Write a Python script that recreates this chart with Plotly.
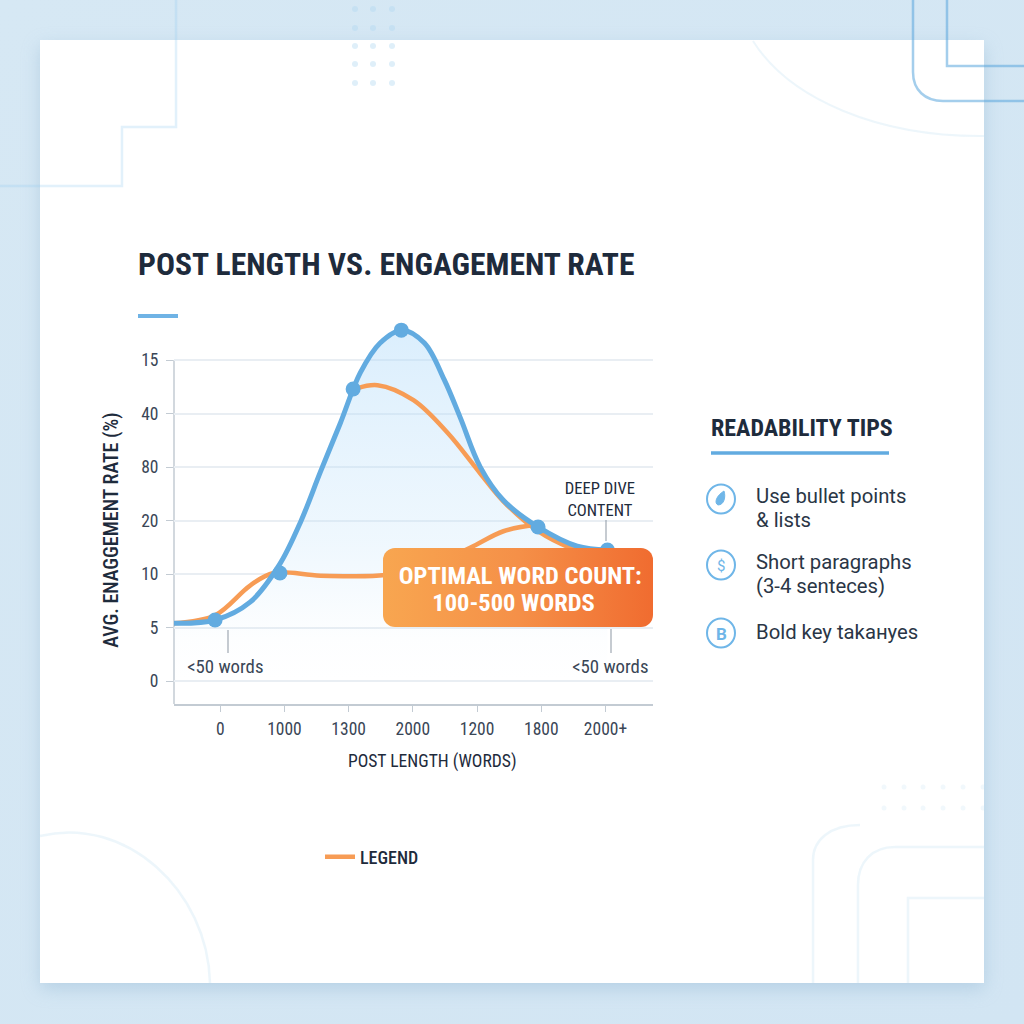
"""Post length vs. engagement rate card, drawn with Plotly."""
import base64

import plotly.graph_objects as go

# ==============================
#  Data
# ==============================
x_ticks = [0, 1, 2, 3, 4, 5, 6]
x_labels = ["0", "1000", "1300", "2000", "1200", "1800", "2000+"]
y_ticks = [0, 1, 2, 3, 4, 5, 6]
y_labels = ["0", "5", "10", "20", "80", "40", "15"]

blue_x = [-0.72, -0.08, 0.47, 0.92, 1.25, 1.56, 1.87, 2.18, 2.49, 2.83, 3.18, 3.49, 3.74, 4.05, 4.41, 4.95, 5.56, 6.03]
blue_y = [1.08, 1.14, 1.48, 2.17, 2.97, 3.91, 4.82, 5.76, 6.32, 6.56, 6.32, 5.63, 4.92, 4.00, 3.38, 2.88, 2.52, 2.45]

dots_x = [-0.08, 0.93, 2.07, 2.82, 4.95, 6.03]
dots_y = [1.14, 2.02, 5.46, 6.56, 2.88, 2.45]

orange_low_x = [-0.72, -0.08, 0.47, 0.83, 1.56, 2.57, 3.27, 3.89, 4.41, 4.91]
orange_low_y = [1.08, 1.23, 1.79, 2.02, 1.97, 1.98, 2.17, 2.49, 2.80, 2.92]

orange_high_x = [2.13, 2.45, 3.01, 3.54, 4.05, 4.41, 4.95, 5.45, 5.69]
orange_high_y = [5.47, 5.53, 5.25, 4.64, 3.88, 3.36, 2.80, 2.49, 2.41]

tips = [
    ("Use bullet points", 496),
    ("& lists", 520),
    ("Short paragraphs", 562),
    ("(3-4 senteces)", 586),
    ("Bold key takaнyes", 632),
]

BLUE = "#62ABE0"
ORANGE = "#F79C55"
INK = "#1E2B3C"
TEXT = "#3A4656"
NARROW = "Roboto, Arial Narrow"  # the marker the page style below looks for
ROBOTO = "Roboto, sans-serif"
SMOOTH = 1


# helpers: page pixels to paper coordinates
def px(v):
    return v / 1024


def py(v):
    return 1 - v / 1024


def svg_uri(svg):
    return "data:image/svg+xml;base64," + base64.b64encode(svg.encode()).decode()


def page_path(d, color, width=2, fill=None):
    # d is a list of (command, x, y, ...) in page pixels
    out = []
    for part in d:
        cmd, nums = part[0], part[1:]
        pairs = [f"{px(nums[i]):.5f},{py(nums[i + 1]):.5f}" for i in range(0, len(nums), 2)]
        out.append(cmd + " " + " ".join(pairs))
    return dict(type="path", xref="paper", yref="paper", path=" ".join(out), layer="below",
                line=dict(color=color, width=width), fillcolor=fill or "rgba(0,0,0,0)")


# ==============================
#  Traces
# ==============================
fig = go.Figure()

fig.add_trace(go.Scatter(
    x=blue_x, y=blue_y, mode="none", fill="tozeroy", showlegend=False,
    line=dict(shape="spline", smoothing=SMOOTH),
    fillgradient=dict(type="vertical", colorscale=[
        [0, "rgba(190,225,250,0)"], [0.12, "rgba(190,225,250,0.03)"],
        [0.4, "rgba(190,225,250,0.25)"], [1, "rgba(175,218,250,0.45)"],
    ]),
))
fig.add_trace(go.Scatter(
    x=orange_low_x, y=orange_low_y, mode="lines", name="LEGEND",
    line=dict(color=ORANGE, width=4.5, shape="spline", smoothing=SMOOTH),
))
fig.add_trace(go.Scatter(
    x=orange_high_x, y=orange_high_y, mode="lines", showlegend=False,
    line=dict(color=ORANGE, width=4.5, shape="spline", smoothing=SMOOTH),
))
fig.add_trace(go.Scatter(
    x=blue_x, y=blue_y, mode="lines", showlegend=False,
    line=dict(color=BLUE, width=5, shape="spline", smoothing=SMOOTH),
))
fig.add_trace(go.Scatter(
    x=dots_x, y=dots_y, mode="markers", showlegend=False,
    marker=dict(color=BLUE, size=15),
))

# ==============================
#  Background art
# ==============================
panel_svg = """<svg xmlns="http://www.w3.org/2000/svg" width="1024" height="1024" viewBox="0 0 1024 1024">
<defs>
<linearGradient id="bg" x1="0" y1="0" x2="1" y2="1"><stop offset="0" stop-color="#D6E8F4"/><stop offset="1" stop-color="#D2E5F3"/></linearGradient>
<filter id="s" x="-10%" y="-10%" width="120%" height="120%"><feGaussianBlur stdDeviation="9"/></filter>
</defs>
<rect width="1024" height="1024" fill="url(#bg)"/>
<rect x="40" y="46" width="944" height="943" fill="#9FBFD8" opacity="0.55" filter="url(#s)"/>
<rect x="40" y="40" width="944" height="943" fill="#FFFFFF"/>
</svg>"""

box_svg = """<svg xmlns="http://www.w3.org/2000/svg" width="270" height="79" viewBox="0 0 270 79">
<defs><linearGradient id="g" x1="0" y1="0" x2="1" y2="0"><stop offset="0" stop-color="#F8A650"/><stop offset="0.5" stop-color="#F59048"/><stop offset="1" stop-color="#F06C30"/></linearGradient></defs>
<rect width="270" height="79" rx="12" ry="12" fill="url(#g)"/>
</svg>"""

images = [
    dict(source=svg_uri(panel_svg), xref="paper", yref="paper", x=0, y=1, sizex=1, sizey=1,
         xanchor="left", yanchor="top", sizing="stretch", layer="below"),
    dict(source=svg_uri(box_svg), xref="paper", yref="paper", x=px(383), y=py(548),
         sizex=270 / 1024, sizey=79 / 1024, xanchor="left", yanchor="top", sizing="stretch", layer="above"),
]

LINE_SOFT = "rgba(150,205,240,0.28)"
LINE_HARD = "rgba(90,165,220,0.55)"
LINE_FAINT = "rgba(190,222,240,0.28)"

shapes = [
    page_path([("M", 176, 0), ("L", 176, 127), ("L", 122, 127), ("L", 122, 186), ("L", 0, 186)], LINE_SOFT, 2.5),
    page_path([("M", 913, 0), ("L", 913, 72), ("C", 913, 90, 925, 101, 943, 101), ("L", 1024, 101)], LINE_HARD, 2.5),
    page_path([("M", 947, 0), ("L", 947, 66), ("L", 1024, 66)], LINE_HARD, 2.5),
    page_path([("M", 753, 41), ("C", 790, 100, 880, 137, 984, 136)], LINE_FAINT, 2),
    page_path([("M", 40, 836), ("C", 125, 815, 208, 890, 210, 983)], LINE_FAINT, 2.5),
    page_path([("M", 813, 983), ("L", 813, 860), ("C", 813, 840, 830, 825, 860, 825)], LINE_FAINT, 2.5),
    page_path([("M", 858, 983), ("L", 858, 885), ("C", 858, 862, 872, 847, 895, 847), ("L", 984, 847)], LINE_FAINT, 2.5),
    page_path([("M", 908, 983), ("L", 908, 898), ("L", 984, 898)], LINE_FAINT, 2.5),
]

# dot grids
for cx in [355, 373, 392]:
    for cy in [9, 28, 46, 64, 83]:
        shapes.append(dict(type="circle", xref="paper", yref="paper", layer="below",
                           x0=px(cx - 3), x1=px(cx + 3), y0=py(cy + 3), y1=py(cy - 3),
                           fillcolor="rgba(175,215,240,0.4)", line=dict(width=0)))
for cx in [884, 904, 923, 943, 963, 983]:
    for cy in [787, 808]:
        shapes.append(dict(type="circle", xref="paper", yref="paper", layer="below",
                           x0=px(cx - 2.5), x1=px(cx + 2.5), y0=py(cy + 2.5), y1=py(cy - 2.5),
                           fillcolor="rgba(190,222,240,0.22)", line=dict(width=0)))


def bar(x0, x1, y, width, color):
    return dict(type="line", xref="paper", yref="paper", x0=px(x0), x1=px(x1), y0=py(y), y1=py(y),
                line=dict(color=color, width=width), layer="below")


def stem(x, y0, y1):
    return dict(type="line", xref="paper", yref="paper", x0=px(x), x1=px(x), y0=py(y0), y1=py(y1),
                line=dict(color="#8D97A3", width=1), layer="above")


shapes += [
    bar(138, 178, 316, 4, "#6FB3E5"),
    bar(711, 889, 453, 3.5, BLUE),
    stem(228, 630, 653),
    stem(611, 629, 653),
    stem(606, 520, 541),
    # y axis line stops at the top tick, the curve runs past it
    dict(type="line", xref="paper", yref="paper", x0=px(174), x1=px(174), y0=py(704), y1=py(360),
         line=dict(color="#C3CBD3", width=1.5), layer="below"),
]

# tip icons
for cy in [499, 565, 633]:
    shapes.append(dict(type="circle", xref="paper", yref="paper", layer="above",
                       x0=px(707), x1=px(735), y0=py(cy + 14.5), y1=py(cy - 14.5),
                       fillcolor="#FFFFFF", line=dict(color="#6FB6E8", width=2)))
shapes.append(page_path([("M", 724, 491), ("C", 726, 497, 724, 505, 718, 505),
                         ("C", 714, 503, 716, 496, 724, 491)], "#6FB6E8", 1, "#6FB6E8"))
shapes[-1]["layer"] = "above"

# ==============================
#  Text
# ==============================
annotations = []


def label(text, x, y, size, color=TEXT, family=NARROW, anchor="center", bold=False, weight=400, angle=0):
    annotations.append(dict(
        text=f"<b>{text}</b>" if bold else text,
        x=px(x), y=py(y), xref="paper", yref="paper", showarrow=False, textangle=angle,
        xanchor=anchor, yanchor="middle", align=anchor,
        font=dict(size=size, color=color, family=family, weight=weight),
    ))


label("POST LENGTH VS. ENGAGEMENT RATE", 136, 264, 31.6, INK, anchor="left", bold=True)
label("&lt;50 words", 225, 667, 18.8)
label("&lt;50 words", 610, 667, 18.8)
label("DEEP DIVE<br>CONTENT", 600, 499, 16.6, INK)
label("OPTIMAL WORD COUNT:", 520, 575, 24.5, "#FFFFFF", bold=True)
label("100-500 WORDS", 513, 602, 24.5, "#FFFFFF", bold=True)
label("READABILITY TIPS", 709, 428, 24, INK, anchor="left", bold=True)
for tip, cy in tips:
    label(tip, 754, cy, 20.3, "#2A3646", ROBOTO, anchor="left")
label("$", 721, 566, 15, "#6FB6E8", ROBOTO)
label("B", 721, 634, 17, "#6FB6E8", ROBOTO, bold=True)
# axis titles sit off the centre of their axes, so they are placed by hand
label("AVG. ENAGGEMENT RATE (%)", 111, 530, 20, INK, weight=500, angle=-90)
label("POST LENGTH (WORDS)", 432, 761, 17.6, INK)

# ==============================
#  Layout
# ==============================
fig.update_xaxes(
    domain=[px(174), px(653)], range=[-0.72, 6.74],
    tickmode="array", tickvals=x_ticks, ticktext=x_labels,
    tickfont=dict(size=17.5, color=TEXT, family=NARROW), ticklabelstandoff=2,
    ticks="outside", ticklen=6, tickcolor="#C3CBD3", tickwidth=1,
    showline=True, linecolor="#C3CBD3", linewidth=1.5, showgrid=False, zeroline=False,
)
fig.update_yaxes(
    domain=[py(704), py(320)], range=[-0.43, 6.75],
    tickmode="array", tickvals=y_ticks, ticktext=y_labels,
    tickfont=dict(size=17.5, color=TEXT, family=NARROW), ticklabelstandoff=4,
    ticks="outside", ticklen=7, tickcolor="#C3CBD3", tickwidth=1,
    showline=False,
    showgrid=True, gridcolor="#E9EEF3", gridwidth=1.5, zeroline=False,
)
fig.update_layout(
    width=1024, height=1024,
    margin=dict(l=0, r=0, t=0, b=0),
    paper_bgcolor="#D4E6F3", plot_bgcolor="rgba(0,0,0,0)",
    images=images, shapes=shapes, annotations=annotations,
    showlegend=True,
    legend=dict(x=px(320), y=py(857), xanchor="left", yanchor="middle", bgcolor="rgba(0,0,0,0)",
                font=dict(size=18, color=INK, family=NARROW, weight=500), itemwidth=30),
)

page_js = """
var css = document.createElement('style');
css.textContent = '[style*="Arial Narrow"]{font-stretch:75%;}';
document.head.appendChild(css);
document.documentElement.style.margin = '0';
document.body.style.margin = '0';
var gd = document.getElementById('{plot_id}');
gd.style.position = 'absolute';
gd.style.left = '0';
gd.style.top = '0';
Plotly.redraw(gd);
"""

fig.write_html("out.html", post_script=page_js, config=dict(displayModeBar=False))
